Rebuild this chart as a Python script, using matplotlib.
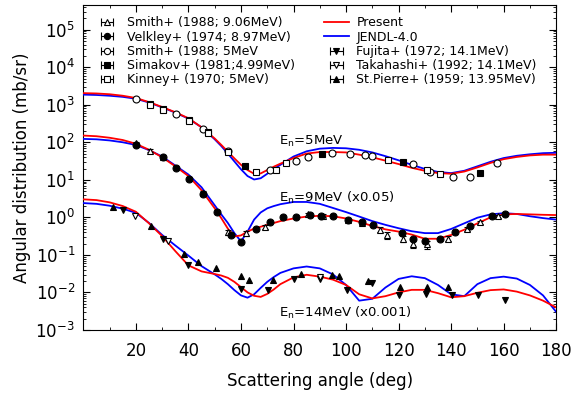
import matplotlib
matplotlib.use("Agg")
import matplotlib.pyplot as plt
import numpy as np

# common angle grid for the calculated curves (deg)
theta = [0, 5, 10, 15, 20, 25, 30, 35, 40, 45, 50,
         52.5, 55, 57.5, 60, 62.5, 65, 67.5, 70, 72.5,
         75, 80, 85, 90, 95, 100, 105, 110, 115, 120, 125, 130, 135, 140, 145,
         150, 155, 160, 165, 170, 175, 180]

# En = 5 MeV (x1)
present_5 = [2040, 2000, 1905, 1738, 1514, 1175, 871, 631, 437, 251, 126,
             85.1, 56.2, 37.2, 25.1, 18.2, 14.5, 14.8, 18.2, 22.4,
             26.9, 38.0, 50.1, 55.0, 55.0, 53.7, 46.8, 39.8, 32.4, 26.3, 20.9, 17.4, 15.1, 14.5, 16.6,
             21.4, 28.2, 35.5, 40.7, 44.7, 46.8, 46.8]
jendl_5 = [1862, 1820, 1738, 1622, 1445, 1148, 851, 617, 427, 251, 120,
           79.4, 50.1, 30.9, 19.1, 12.6, 10.2, 11.0, 14.5, 19.5,
           25.1, 41.7, 57.5, 67.6, 70.8, 69.2, 63.1, 53.7, 42.7, 33.1, 25.1, 19.5, 16.2, 15.1, 17.4,
           22.9, 30.2, 38.0, 43.7, 47.9, 51.3, 52.5]

# En = 9 MeV (x0.05)
present_9 = [151, 145, 132, 115, 91.2, 63.1, 39.8, 22.9, 12.6, 5.25, 1.74,
             0.955, 0.501, 0.31, 0.33, 0.417, 0.501, 0.562, 0.631, 0.708,
             0.794, 0.933, 1.05, 1.10, 1.07, 0.933, 0.759, 0.589, 0.479, 0.417, 0.347, 0.269, 0.269, 0.339, 0.468,
             0.692, 1.00, 1.20, 1.23, 1.20, 1.17, 1.15]
jendl_9 = [123, 120, 112, 100, 85.1, 61.7, 41.7, 24.0, 13.8, 6.31, 2.09,
           1.20, 0.708, 0.380, 0.229, 0.417, 0.871, 1.35, 1.74, 2.00,
           2.24, 2.57, 2.57, 2.29, 1.78, 1.38, 1.05, 0.794, 0.631, 0.513, 0.427, 0.380, 0.380, 0.490, 0.692,
           0.977, 1.20, 1.29, 1.23, 1.07, 0.955, 0.871]

# En = 14 MeV (x0.001)
present_14 = [3.02, 2.88, 2.51, 2.00, 1.41, 0.692, 0.316, 0.126, 0.0525, 0.0363, 0.0309,
              0.0282, 0.0245, 0.0191, 0.0138, 0.0100, 0.00813, 0.00759, 0.00912, 0.0120,
              0.0166, 0.0251, 0.0295, 0.0263, 0.0219, 0.0158, 0.00891, 0.00692, 0.00794, 0.0100, 0.0117,
              0.0117, 0.00955, 0.00741, 0.00794, 0.00977, 0.0115, 0.0120, 0.0105, 0.00832, 0.00603, 0.00398]
jendl_14 = [2.40, 2.29, 2.04, 1.70, 1.32, 0.708, 0.339, 0.178, 0.0955, 0.0501, 0.0302,
            0.0229, 0.0166, 0.0115, 0.00832, 0.00724, 0.00891, 0.0132, 0.0191, 0.0257,
            0.0331, 0.0437, 0.0490, 0.0437, 0.0302, 0.0158, 0.00603, 0.00676, 0.0135, 0.0229, 0.0269,
            0.0240, 0.0158, 0.00891, 0.00794, 0.0166, 0.0240, 0.0263, 0.0234, 0.0158, 0.00832, 0.00302]

# experimental data (already scaled as plotted)
smith9_x = [20.1, 25.2, 30.3, 45.5, 55.0, 62.0, 69.0, 85.6, 91.1, 100.9, 106.0, 113.0, 115.5,
            121.8, 125.6, 130.7, 139.0, 146.0, 151.0, 158.0]
smith9_y = [95.5, 60.3, 41.7, 4.47, 0.407, 0.372, 0.550, 1.20, 1.12, 0.851, 0.708, 0.468, 0.331,
            0.269, 0.200, 0.191, 0.269, 0.501, 0.741, 1.07]
smith9_err_pct = [8, 8, 8, 10, 15, 15, 12, 8, 8, 10, 10, 15, 20, 20, 25, 25, 15, 12, 10, 8]

velkley_x = [20.1, 30.3, 35.4, 40.4, 45.7, 51.0, 56.3, 60.1, 65.8, 70.9, 76.0, 81.1, 86.2, 90.6,
             95.2, 100.9, 106.0, 110.4, 121.2, 125.6, 130.1, 135.8, 141.5, 147.2, 155.5, 160.6]
velkley_y = [85.1, 39.8, 20.9, 10.7, 4.27, 1.38, 0.331, 0.219, 0.501, 0.741, 1.00, 1.00, 1.17, 1.12,
             1.12, 0.871, 0.741, 0.617, 0.380, 0.257, 0.234, 0.269, 0.407, 0.575, 1.07, 1.26]

smith5_x = [20.1, 35.4, 45.5, 55.0, 70.9, 81.1, 85.5, 94.5, 101.5, 107.2, 109.8, 125.6, 132.0,
            140.9, 147.2, 157.4]
smith5_y = [1445, 575, 229, 60.3, 18.6, 31.6, 39.8, 52.5, 49.0, 44.7, 42.7, 26.9, 15.8, 11.7, 11.7, 27.5]

simakov_x = [25.2, 30.3, 40.4, 47.4, 61.4, 90.7, 121.8, 151.0]
simakov_y = [1047, 776, 398, 186, 22.9, 49.0, 29.5, 15.1]

kinney_x = [25.2, 30.3, 40.4, 47.4, 55.0, 65.8, 73.5, 77.3, 116.1, 130.7, 135.8]
kinney_y = [1000, 724, 372, 178, 56.2, 15.8, 17.8, 27.5, 34.7, 18.6, 14.5]

fujita_x = [15.0, 30.3, 39.8, 60.1, 70.3, 80.1, 90.1, 100.3, 109.8, 120.2, 130.3, 140.3, 150.4, 160.6]
fujita_y = [1.55, 0.257, 0.0550, 0.0126, 0.0115, 0.0234, 0.0234, 0.0115, 0.0174, 0.00851, 0.00933,
            0.00851, 0.00851, 0.00646]

takahashi_x = [19.5, 32.2, 90.0]
takahashi_y = [1.12, 0.240, 0.0251]

stpierre_x = [11.2, 25.8, 38.5, 43.6, 50.6, 60.1, 63.0, 72.2, 83.0, 94.5, 97.4, 108.5, 120.6, 130.7, 139.0]
stpierre_y = [1.86, 0.603, 0.105, 0.0631, 0.0437, 0.0269, 0.0209, 0.0209, 0.0302, 0.0288, 0.0269,
              0.0200, 0.0141, 0.0141, 0.0141]

# (label, x, y, marker, filled)
datasets = [
    ("Smith+ (1988; 9.06MeV)", smith9_x, smith9_y, "^", False),
    ("Velkley+ (1974; 8.97MeV)", velkley_x, velkley_y, "o", True),
    ("Smith+ (1988; 5MeV", smith5_x, smith5_y, "o", False),
    ("Simakov+ (1981;4.99MeV)", simakov_x, simakov_y, "s", True),
    ("Kinney+ (1970; 5MeV)", kinney_x, kinney_y, "s", False),
    ("Fujita+ (1972; 14.1MeV)", fujita_x, fujita_y, "v", True),
    ("Takahashi+ (1992; 14.1MeV)", takahashi_x, takahashi_y, "v", False),
    ("St.Pierre+ (1959; 13.95MeV)", stpierre_x, stpierre_y, "^", True),
]


def main():
    plt.rcParams["font.family"] = "DejaVu Sans"
    fig = plt.figure(figsize=(5.83, 3.98), dpi=100)
    ax = fig.add_axes([0.143, 0.171, 0.811, 0.816])

    for vals in (jendl_5, jendl_9, jendl_14):
        ax.plot(theta, vals, color="#0000ff", lw=1.3, zorder=3)
    for vals in (present_5, present_9, present_14):
        ax.plot(theta, vals, color="#ff0000", lw=1.3, zorder=4)

    handles = {}
    for label, x, y, mk, filled in datasets:
        fc = "black" if filled else "white"
        yerr = None
        if label.startswith("Smith+ (1988; 9.06"):
            yerr = np.asarray(y) * np.asarray(smith9_err_pct) / 100.0
        ax.errorbar(x, y, yerr=yerr, fmt=mk, ms=5, mfc=fc, mec="black", mew=0.8,
                    ecolor="black", elinewidth=0.8, capsize=2, zorder=5)
        # legend proxy with horizontal bar, as in the original figure
        handles[label] = ax.errorbar([np.nan], [np.nan], xerr=[1], fmt=mk, ms=4.5, mfc=fc,
                                     mec="black", mew=0.8, ecolor="black", elinewidth=0.8,
                                     capsize=3, label=label)
    h_present, = ax.plot([], [], color="#ff0000", lw=1.3, label="Present")
    h_jendl, = ax.plot([], [], color="#0000ff", lw=1.3, label="JENDL-4.0")

    order = [handles[d[0]] for d in datasets[:5]] + [h_present, h_jendl] + [handles[d[0]] for d in datasets[5:]]
    labels = [d[0] for d in datasets[:5]] + ["Present", "JENDL-4.0"] + [d[0] for d in datasets[5:]]
    ax.legend(order, labels, ncol=2, loc="upper left", frameon=False, fontsize=9,
              handlelength=2.0, handletextpad=0.6, columnspacing=2.3, labelspacing=0.1,
              borderaxespad=0.5, bbox_to_anchor=(0.0, 1.0))

    ax.text(74.5, 105, r"E$_\mathrm{n}$=5MeV", fontsize=9.5, va="center")
    ax.text(74.5, 3.2, r"E$_\mathrm{n}$=9MeV (x0.05)", fontsize=9.5, va="center")
    ax.text(74.5, 2.8e-3, r"E$_\mathrm{n}$=14MeV (x0.001)", fontsize=9.5, va="center")

    ax.set_yscale("log")
    ax.set_xlim(0, 180)
    ax.set_ylim(1e-3, 4.5e5)
    ax.set_xticks(range(20, 181, 20))
    ax.set_xticks(range(0, 181, 10), minor=True)
    ax.set_yticks([10.0 ** k for k in range(-3, 6)])
    ax.tick_params(which="both", direction="in", top=True, right=True, labelsize=12)
    ax.tick_params(which="major", length=5)
    ax.tick_params(which="minor", length=2.5)
    ax.tick_params(axis="x", which="major", pad=9)
    ax.tick_params(axis="y", which="major", pad=6)
    ax.set_xlabel("Scattering angle (deg)", fontsize=12, labelpad=8)
    ax.set_ylabel("Angular distribution (mb/sr)", fontsize=12, labelpad=3)

    fig.savefig("out.png", dpi=100)
    plt.close(fig)


if __name__ == "__main__":
    main()
